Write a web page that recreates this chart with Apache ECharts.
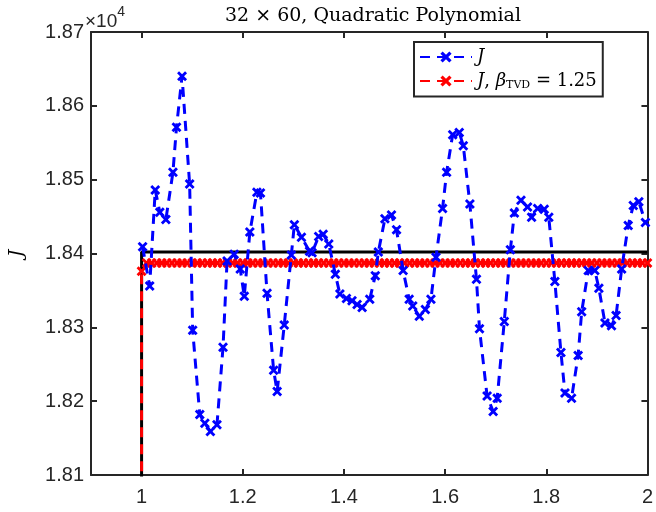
<!DOCTYPE html>
<html>
<head>
<meta charset="utf-8">
<script src="https://cdn.jsdelivr.net/npm/echarts@6/dist/echarts.min.js"></script>
<style>html,body{margin:0;padding:0;background:#fff;}#c{width:656px;height:512px;}</style>
</head>
<body>
<div id="c"></div>
<script>
// x positions (time / parameter) of J samples
const blueX = [1.002,1.016,1.027,1.036,1.048,1.062,1.069,1.080,1.095,1.101,1.115,1.125,1.136,1.149,1.161,1.169,1.183,1.195,1.203,1.214,1.228,1.235,1.248,1.261,1.268,1.282,1.296,1.302,1.316,1.332,1.337,1.350,1.359,1.370,1.383,1.392,1.405,1.416,1.426,1.436,1.451,1.462,1.468,1.481,1.494,1.504,1.517,1.529,1.536,1.549,1.561,1.572,1.582,1.595,1.603,1.615,1.628,1.636,1.649,1.662,1.668,1.683,1.695,1.703,1.717,1.729,1.737,1.750,1.763,1.771,1.783,1.796,1.805,1.817,1.829,1.837,1.850,1.863,1.870,1.883,1.896,1.904,1.916,1.929,1.938,1.949,1.962,1.972,1.983,1.996];
// J values (axis shown in x10^4)
const blueJ = [18409,18356,18486,18456,18446,18510,18571,18640,18494,18296,18182,18170,18159,18168,18273,18390,18399,18379,18342,18429,18483,18482,18346,18242,18213,18303,18398,18439,18422,18403,18401,18423,18426,18413,18372,18345,18339,18336,18331,18327,18338,18370,18402,18447,18452,18432,18377,18338,18329,18315,18324,18338,18395,18461,18510,18561,18564,18546,18467,18365,18298,18207,18186,18204,18308,18405,18455,18472,18463,18449,18461,18460,18449,18362,18266,18211,18204,18262,18321,18377,18377,18353,18306,18302,18316,18379,18438,18465,18470,18442];
// TVD-limited J
const redX = [1.00,1.00,1.01,1.02,1.03,1.04,1.05,1.06,1.07,1.08,1.09,1.10,1.11,1.12,1.13,1.14,1.15,1.16,1.17,1.18,1.19,1.20,1.21,1.22,1.23,1.24,1.25,1.26,1.27,1.28,1.29,1.30,1.31,1.32,1.33,1.34,1.35,1.36,1.37,1.38,1.39,1.40,1.41,1.42,1.43,1.44,1.45,1.46,1.47,1.48,1.49,1.50,1.51,1.52,1.53,1.54,1.55,1.56,1.57,1.58,1.59,1.60,1.61,1.62,1.63,1.64,1.65,1.66,1.67,1.68,1.69,1.70,1.71,1.72,1.73,1.74,1.75,1.76,1.77,1.78,1.79,1.80,1.81,1.82,1.83,1.84,1.85,1.86,1.87,1.88,1.89,1.90,1.91,1.92,1.93,1.94,1.95,1.96,1.97,1.98,1.99,2.00];
const redJ = [17000,18376,18387,18387,18387,18387,18387,18387,18387,18387,18387,18387,18387,18387,18387,18387,18387,18387,18387,18387,18387,18387,18387,18387,18387,18387,18387,18387,18387,18387,18387,18387,18387,18387,18387,18387,18387,18387,18387,18387,18387,18387,18387,18387,18387,18387,18387,18387,18387,18387,18387,18387,18387,18387,18387,18387,18387,18387,18387,18387,18387,18387,18387,18387,18387,18387,18387,18387,18387,18387,18387,18387,18387,18387,18387,18387,18387,18387,18387,18387,18387,18387,18387,18387,18387,18387,18387,18387,18387,18387,18387,18387,18387,18387,18387,18387,18387,18387,18387,18387,18387,18387];
// reference (black) line
const refX = [1.0, 1.0, 2.0];
const refJ = [17000, 18402, 18402];
const xTicks = [1, 1.2, 1.4, 1.6, 1.8, 2];
const yMin = 18100, yMax = 18700, yStep = 100;

const zip = (a, b) => a.map((v, i) => [v, b[i]]);
const xMark = 'path://M2,0 L5,3 L8,0 L10,2 L7,5 L10,8 L8,10 L5,7 L2,10 L0,8 L3,5 L0,2 Z';
const axCol = '#262626';
const sans = 'Liberation Sans';
const serif = 'DejaVu Serif';

const chart = echarts.init(document.getElementById('c'), null, {renderer: 'canvas'});
const xCommon = {
  type: 'value', min: 0.9, max: 2,
  axisLine: {show: true, onZero: false, lineStyle: {color: axCol, width: 2}},
  axisTick: {show: true, inside: true, length: 6, customValues: xTicks, lineStyle: {color: axCol, width: 2}},
  splitLine: {show: false}
};
const yCommon = {
  type: 'value', min: yMin, max: yMax, interval: yStep,
  axisLine: {show: true, onZero: false, lineStyle: {color: axCol, width: 2}},
  axisTick: {show: true, inside: true, length: 6, lineStyle: {color: axCol, width: 2}},
  splitLine: {show: false}
};
chart.setOption({
  animation: false,
  backgroundColor: '#fff',
  title: {
    text: '32 × 60, Quadratic Polynomial',
    left: 368, top: 2, textAlign: 'center',
    textStyle: {fontFamily: serif, fontWeight: 'normal', fontSize: 19, color: '#000'}
  },
  grid: {left: 84, right: 5, top: 32, bottom: 37, containLabel: false},
  xAxis: [
    Object.assign({}, xCommon, {position: 'bottom',
      axisLabel: {show: true, customValues: xTicks, margin: 12, fontFamily: sans, fontSize: 20, color: axCol,
        formatter: v => String(+(+v).toFixed(1))}}),
    Object.assign({}, xCommon, {position: 'top', axisLabel: {show: false}})
  ],
  yAxis: [
    Object.assign({}, yCommon, {position: 'left',
      name: 'J', nameLocation: 'middle', nameGap: 64, nameRotate: 90,
      nameTextStyle: {fontFamily: serif, fontStyle: 'italic', fontSize: 19, color: '#000'},
      axisLabel: {show: true, margin: 7, fontFamily: sans, fontSize: 20, color: axCol,
        formatter: v => (v / 10000).toFixed(2)}}),
    Object.assign({}, yCommon, {position: 'right', axisLabel: {show: false}})
  ],
  legend: {
    orient: 'vertical', left: 414, top: 42,
    data: ['J', 'J_TVD'],
    backgroundColor: '#fff', borderColor: axCol, borderWidth: 2,
    padding: [6, 6, 6, 5], itemGap: 6, itemWidth: 52, itemHeight: 14,
    formatter: n => n === 'J' ? '{it|J}' : '{it|J}, {it|β}{sub|TVD} = 1.25',
    textStyle: {fontFamily: serif, fontSize: 18, color: '#000',
      rich: {
        it: {fontFamily: serif, fontStyle: 'italic', fontSize: 18, color: '#000'},
        sub: {fontFamily: serif, fontSize: 11, color: '#000', verticalAlign: 'bottom', padding: [8, 0, 0, 0]}
      }}
  },
  series: [
    {name: 'ref', type: 'line', data: zip(refX, refJ), symbol: 'none', silent: true,
      lineStyle: {color: '#000', width: 3}, clip: true, z: 1},
    {name: 'J_TVD', type: 'line', data: zip(redX, redJ), symbol: xMark, symbolSize: 10,
      itemStyle: {color: '#ff0000'}, lineStyle: {color: '#ff0000', width: 3, type: [10, 7]}, clip: true, z: 2},
    {name: 'J', type: 'line', data: zip(blueX, blueJ), symbol: xMark, symbolSize: 10,
      itemStyle: {color: '#0000ff'}, lineStyle: {color: '#0000ff', width: 3, type: [10, 7]}, clip: true, z: 3}
  ],
  graphic: [{
    type: 'text', left: 85, top: 5,
    style: {text: '{a|×10}{b|4}', rich: {
      a: {fontFamily: sans, fontSize: 19, fill: axCol, padding: [7, 0, 0, 0]},
      b: {fontFamily: sans, fontSize: 14, fill: axCol, verticalAlign: 'top'}
    }}
  }]
});
</script>
</body>
</html>
